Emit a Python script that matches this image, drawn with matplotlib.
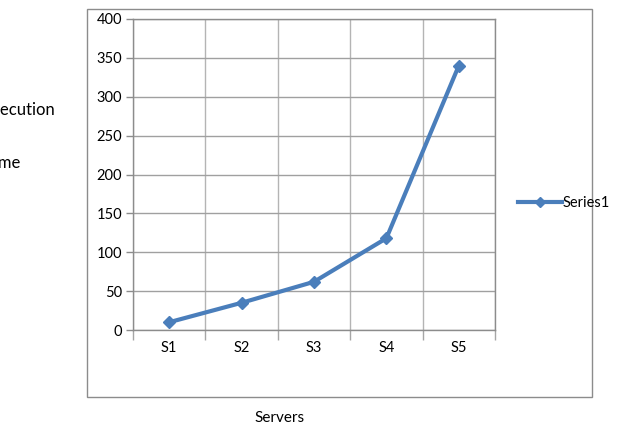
import matplotlib
matplotlib.use("Agg")
import matplotlib.pyplot as plt
from matplotlib.patches import Rectangle
import numpy as np

servers = ["S1", "S2", "S3", "S4", "S5"]
exec_time = [10, 35, 62, 118, 340]
series_name = "Series1"

W, H = 637, 426
plt.rcParams['font.family'] = ['Lato', 'DejaVu Sans']

fig = plt.figure(figsize=(W / 100, H / 100), dpi=100)

# outer chart box
fig.patches.append(Rectangle((87 / W, 1 - 397 / H), (592 - 87) / W, (397 - 9) / H,
                             transform=fig.transFigure, fill=False,
                             edgecolor="#8c8c8c", linewidth=1))

ax = fig.add_axes([133 / W, 1 - 330 / H, (495 - 133) / W, (330 - 19) / H])
x = np.arange(len(servers))
ax.plot(x, exec_time, color="#4a7ebb", linewidth=3, marker="D", markersize=6,
        label=series_name)

ax.set_xlim(-0.5, len(servers) - 0.5)
ax.set_ylim(0, 400)
ax.set_yticks(np.arange(0, 401, 50))
ax.set_xticks(x)
ax.set_xticklabels(servers)
ax.set_xticks(np.arange(-0.5, len(servers), 1), minor=True)
ax.tick_params(axis="x", which="major", length=0, pad=8, labelsize=10.5)
ax.tick_params(axis="x", which="minor", length=7, color="#a6a6a6", width=1)
ax.tick_params(axis="y", length=5, color="#8c8c8c", width=1, labelsize=10.5, pad=3)

ax.grid(True, axis="y", color="#a0a0a0", linewidth=1)
ax.grid(True, axis="x", which="minor", color="#b4b4b4", linewidth=1)
ax.set_axisbelow(True)
for s in ax.spines.values():
    s.set_color("#8c8c8c")
    s.set_linewidth(1)

# the y label is partly cut off by the left edge, as in the source image
fig.text(280 / W, 1 - 418 / H, "Servers", ha="center", va="center", fontsize=11)
fig.text(-18 / W, 1 - 110 / H, "Execution", ha="left", va="center", fontsize=12)
fig.text(-15 / W, 1 - 163 / H, "Time", ha="left", va="center", fontsize=12)

fig.legend(loc="center left", bbox_to_anchor=(512 / W, 1 - 203 / H), frameon=False,
           fontsize=10.5, handlelength=3.0, handletextpad=0.1, borderaxespad=0,
           markerscale=0.9)

fig.savefig("out.png", dpi=100)
